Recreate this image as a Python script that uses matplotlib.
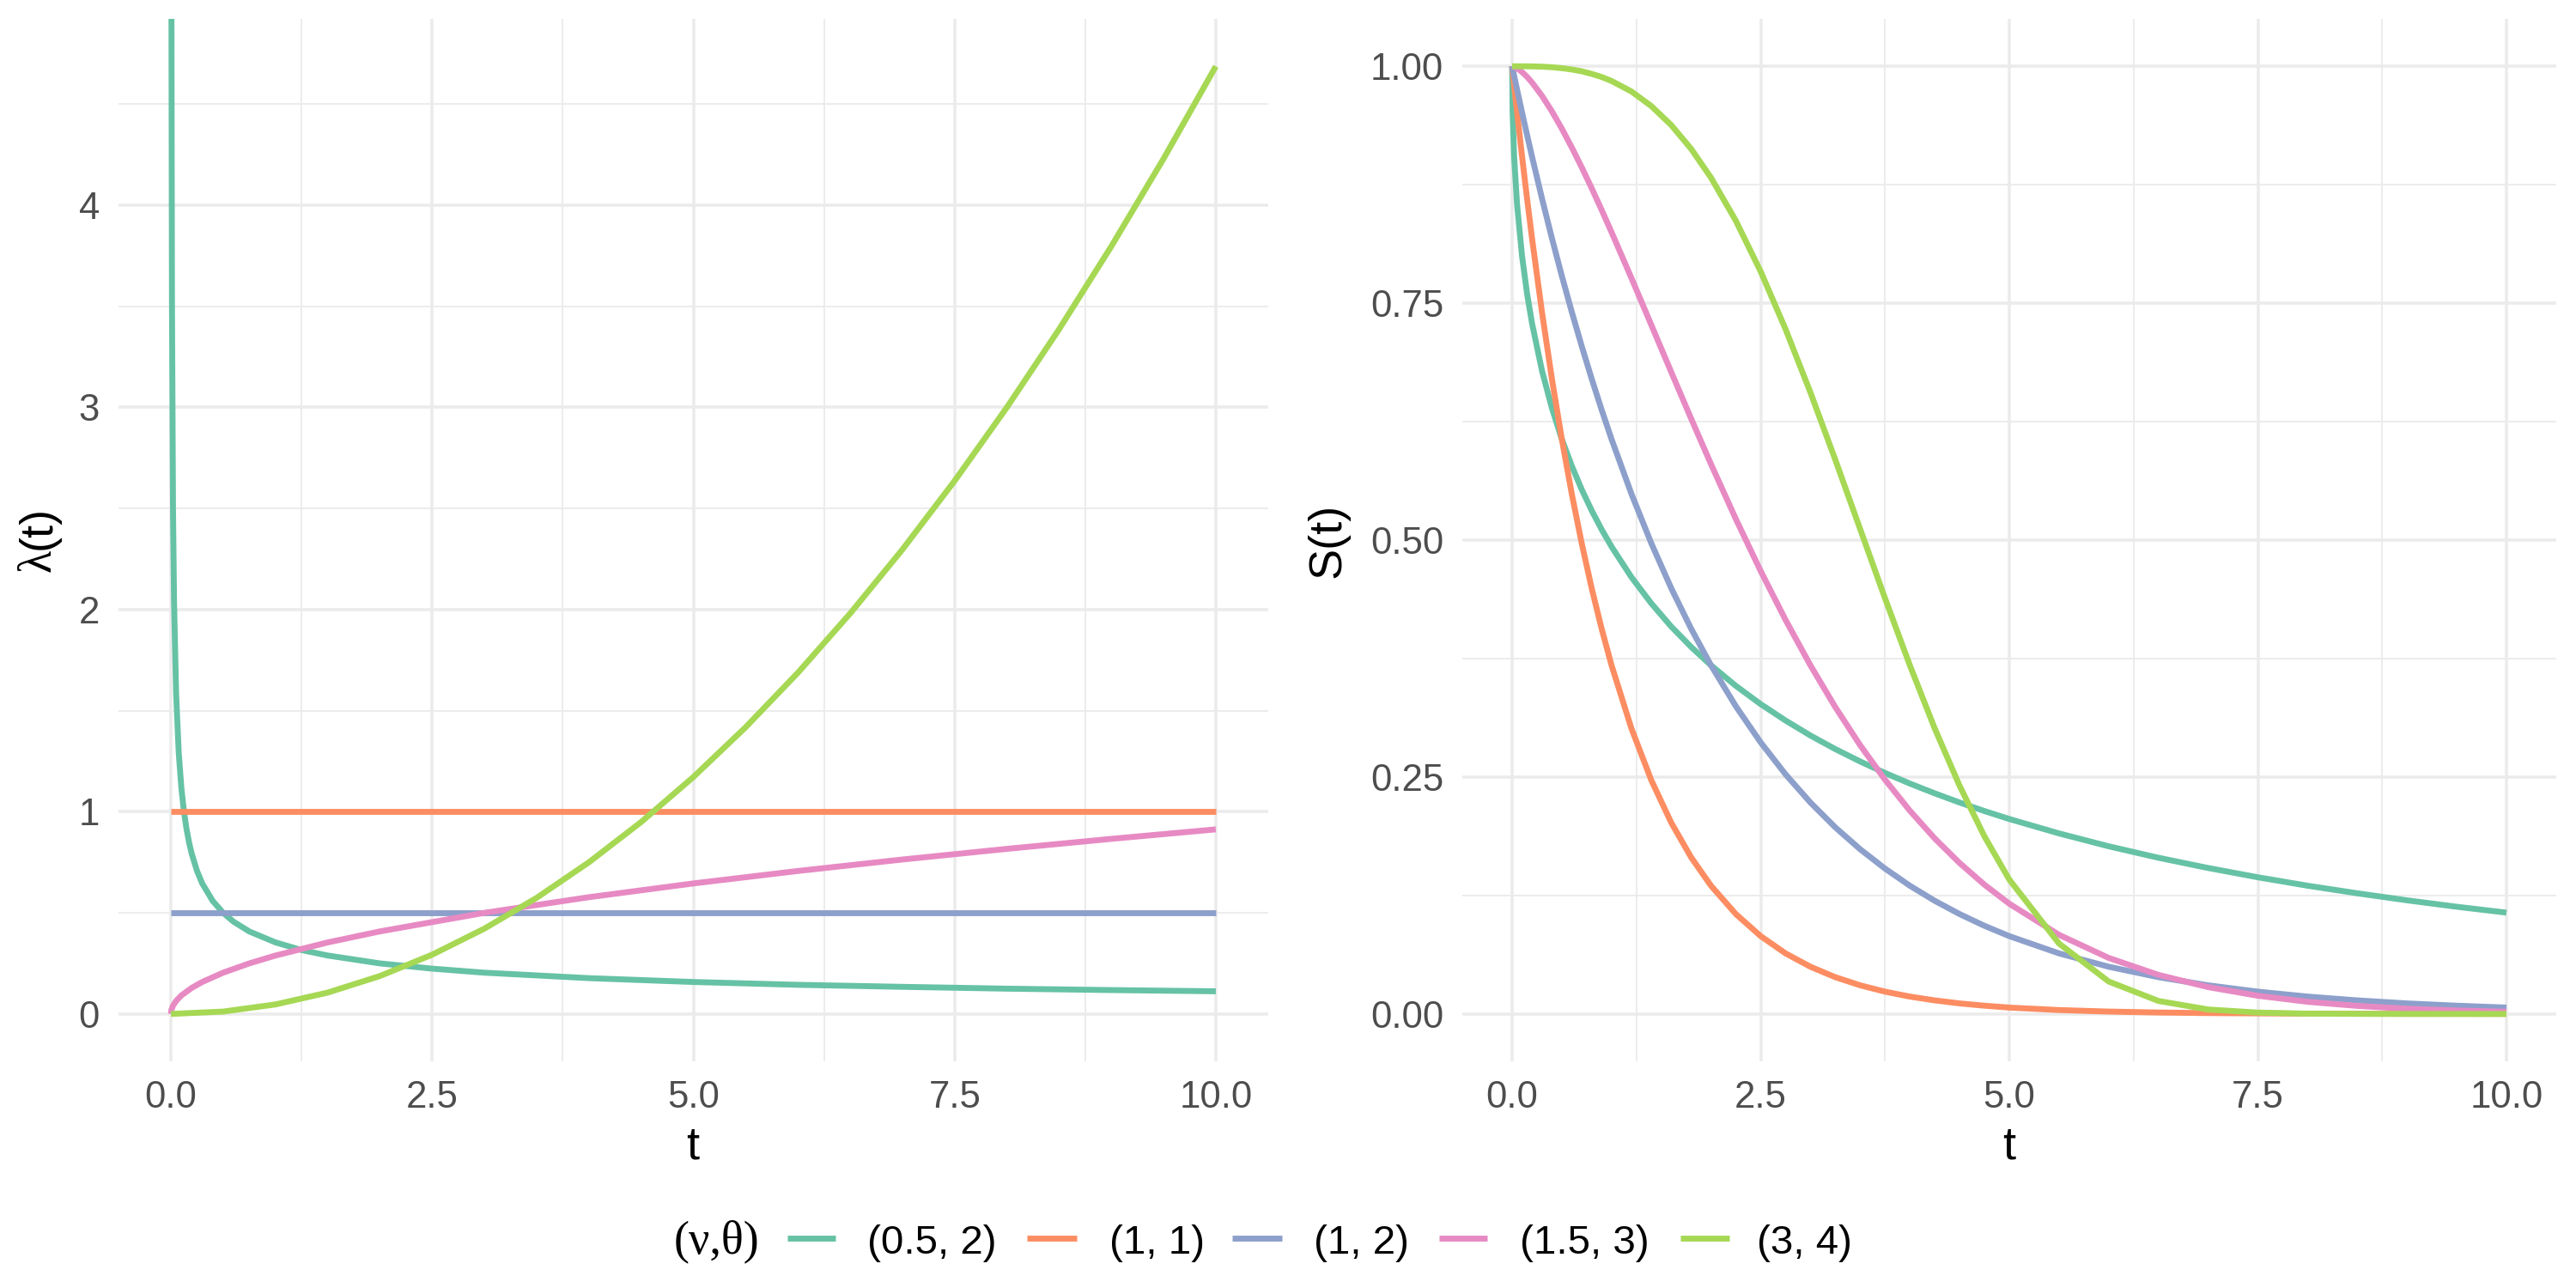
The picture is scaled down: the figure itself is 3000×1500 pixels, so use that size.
import matplotlib
matplotlib.use("Agg")
import matplotlib.pyplot as plt
from matplotlib.lines import Line2D
from matplotlib.ticker import FixedLocator

# ---------------- data ----------------
labels = ["(0.5, 2)", "(1, 1)", "(1, 2)", "(1.5, 3)", "(3, 4)"]
colors = ["#66C2A5", "#FC8D62", "#8DA0CB", "#E78AC3", "#A6D854"]

# hazard lambda(t)
haz_t_a = [0.005, 0.01, 0.02, 0.03, 0.05, 0.075, 0.1, 0.125, 0.15, 0.175, 0.2, 0.25,
           0.3, 0.4, 0.5, 0.6, 0.75, 1.0, 1.25, 1.5, 2.0, 2.5, 3, 4, 5, 6, 7, 8, 9, 10]
haz_a = [5.000, 3.536, 2.500, 2.041, 1.581, 1.291, 1.118, 1.000, 0.913, 0.845, 0.791, 0.707,
         0.645, 0.559, 0.500, 0.456, 0.408, 0.354, 0.316, 0.289, 0.250, 0.224, 0.204, 0.177,
         0.158, 0.144, 0.134, 0.125, 0.118, 0.112]
haz_t_b = [0, 10]
haz_b = [1.0, 1.0]
haz_t_c = [0, 10]
haz_c = [0.5, 0.5]
haz_t_d = [0, 0.005, 0.02, 0.05, 0.1, 0.2, 0.3, 0.5, 0.75, 1, 1.5, 2, 3, 4, 5, 6, 7, 8, 9, 10]
haz_d = [0.0, 0.0204, 0.0408, 0.0645, 0.0913, 0.1291, 0.1581, 0.2041, 0.2500, 0.2887,
         0.3536, 0.4082, 0.5000, 0.5774, 0.6455, 0.7071, 0.7638, 0.8165, 0.8660, 0.9129]
haz_t_e = [0, 0.5, 1, 1.5, 2, 2.5, 3, 3.5, 4, 4.5, 5, 5.5, 6, 6.5, 7, 7.5, 8, 8.5, 9, 9.5, 10]
haz_e = [0.0, 0.0117, 0.0469, 0.1055, 0.1875, 0.2930, 0.4219, 0.5742, 0.7500, 0.9492,
         1.1719, 1.4180, 1.6875, 1.9805, 2.2969, 2.6367, 3.0000, 3.3867, 3.7969, 4.2305, 4.6875]

# survival S(t)
surv_t = [0, 0.005, 0.02, 0.05, 0.1, 0.15, 0.2, 0.3, 0.4, 0.5, 0.6, 0.7, 0.8, 0.9, 1.0,
          1.2, 1.4, 1.6, 1.8, 2.0, 2.25, 2.5, 2.75, 3, 3.25, 3.5, 3.75, 4, 4.25, 4.5, 4.75,
          5, 5.5, 6, 6.5, 7, 7.5, 8, 8.5, 9, 9.5, 10]
surv_a = [1.0, 0.9512, 0.9048, 0.8538, 0.7996, 0.7604, 0.7289, 0.6789, 0.6394, 0.6065,
          0.5783, 0.5534, 0.5313, 0.5113, 0.4931, 0.4609, 0.4332, 0.4088, 0.3873, 0.3679,
          0.3462, 0.3269, 0.3096, 0.2938, 0.2795, 0.2664, 0.2543, 0.2431, 0.2328, 0.2231,
          0.2141, 0.2057, 0.1905, 0.1769, 0.1648, 0.1540, 0.1442, 0.1353, 0.1273, 0.1199,
          0.1131, 0.1069]
surv_b = [1.0, 0.9950, 0.9802, 0.9512, 0.9048, 0.8607, 0.8187, 0.7408, 0.6703, 0.6065,
          0.5488, 0.4966, 0.4493, 0.4066, 0.3679, 0.3012, 0.2466, 0.2019, 0.1653, 0.1353,
          0.1054, 0.0821, 0.0639, 0.0498, 0.0388, 0.0302, 0.0235, 0.0183, 0.0143, 0.0111,
          0.0087, 0.0067, 0.0041, 0.0025, 0.0015, 0.0009, 0.0006, 0.0003, 0.0002, 0.0001,
          0.0001, 0.0000]
surv_c = [1.0, 0.9975, 0.9900, 0.9753, 0.9512, 0.9277, 0.9048, 0.8607, 0.8187, 0.7788,
          0.7408, 0.7047, 0.6703, 0.6376, 0.6065, 0.5488, 0.4966, 0.4493, 0.4066, 0.3679,
          0.3247, 0.2865, 0.2528, 0.2231, 0.1969, 0.1738, 0.1534, 0.1353, 0.1194, 0.1054,
          0.0930, 0.0821, 0.0639, 0.0498, 0.0388, 0.0302, 0.0235, 0.0183, 0.0143, 0.0111,
          0.0087, 0.0067]
surv_d = [1.0, 0.9999, 0.9995, 0.9979, 0.9939, 0.9889, 0.9829, 0.9689, 0.9525, 0.9342,
          0.9144, 0.8934, 0.8714, 0.8485, 0.8249, 0.7765, 0.7270, 0.6774, 0.6283, 0.5802,
          0.5223, 0.4673, 0.4158, 0.3679, 0.3238, 0.2836, 0.2472, 0.2145, 0.1852, 0.1593,
          0.1364, 0.1163, 0.0835, 0.0591, 0.0412, 0.0283, 0.0192, 0.0128, 0.0085, 0.0055,
          0.0036, 0.0023]
surv_e = [1.0, 1.0, 1.0, 1.0, 1.0, 0.99995, 0.99988, 0.99958, 0.9990, 0.9980,
          0.9966, 0.9947, 0.9920, 0.9887, 0.9845, 0.9734, 0.9580, 0.9380, 0.9129, 0.8825,
          0.8370, 0.7834, 0.7226, 0.6558, 0.5849, 0.5117, 0.4387, 0.3679, 0.3013, 0.2408,
          0.1874, 0.1418, 0.0743, 0.0342, 0.0137, 0.0047, 0.0014, 0.0003, 0.0001, 0.0,
          0.0, 0.0]

x_ticks = [0, 2.5, 5, 7.5, 10]
x_ticklabels = ["0.0", "2.5", "5.0", "7.5", "10.0"]
x_minor = [1.25, 3.75, 6.25, 8.75]
haz_yticks = [0, 1, 2, 3, 4]
haz_yticklabels = ["0", "1", "2", "3", "4"]
haz_yminor = [0.5, 1.5, 2.5, 3.5, 4.5]
surv_yticks = [0, 0.25, 0.5, 0.75, 1.0]
surv_yticklabels = ["0.00", "0.25", "0.50", "0.75", "1.00"]
surv_yminor = [0.125, 0.375, 0.625, 0.875]

# ---------------- figure ----------------
W, H = 3000, 1500
fig = plt.figure(figsize=(10, 5), dpi=300)
SANS = ["Liberation Sans", "DejaVu Sans"]
SERIF = ["Liberation Serif", "DejaVu Serif"]
plt.rcParams["font.family"] = SANS

def fx(px):
    return px / W

def fy(py):
    return (H - py) / H

ax1 = fig.add_axes([fx(138.2), fy(1236), fx(1476.8 - 138.2), (1236 - 22) / H])
ax2 = fig.add_axes([fx(1703.1), fy(1236), fx(2976.9 - 1703.1), (1236 - 22) / H])

GRID = "#EBEBEB"
LW = 1.65

def style(ax, yt, ytl, ymin):
    for s in ax.spines.values():
        s.set_visible(False)
    ax.set_xticks(x_ticks)
    ax.set_xticklabels(x_ticklabels)
    ax.set_yticks(yt)
    ax.set_yticklabels(ytl)
    ax.xaxis.set_minor_locator(FixedLocator(x_minor))
    ax.yaxis.set_minor_locator(FixedLocator(ymin))
    ax.tick_params(which="both", length=0)
    ax.tick_params(which="major", labelsize=10.5, labelcolor="#4D4D4D", pad=5.3)
    ax.grid(which="major", color=GRID, linewidth=0.85)
    ax.grid(which="minor", color=GRID, linewidth=0.45)
    ax.set_axisbelow(True)
    ax.set_xlim(-0.5, 10.5)

haz_t = [haz_t_a, haz_t_b, haz_t_c, haz_t_d, haz_t_e]
haz_v = [haz_a, haz_b, haz_c, haz_d, haz_e]
for t, v, c in zip(haz_t, haz_v, colors):
    ax1.plot(t, v, color=c, linewidth=LW, solid_capstyle="butt", solid_joinstyle="round")
style(ax1, haz_yticks, haz_yticklabels, haz_yminor)
ax1.set_ylim(-0.234375, 4.921875)

surv_v = [surv_a, surv_b, surv_c, surv_d, surv_e]
for v, c in zip(surv_v, colors):
    ax2.plot(surv_t, v, color=c, linewidth=LW, solid_capstyle="butt", solid_joinstyle="round")
style(ax2, surv_yticks, surv_yticklabels, surv_yminor)
ax2.set_ylim(-0.05, 1.05)

# axis titles
fig.text(fx(807), fy(1349), "t", fontsize=13, ha="center", va="baseline", family=SANS)
fig.text(fx(2340), fy(1349), "t", fontsize=13, ha="center", va="baseline", family=SANS)
fig.text(fx(1561), fy(629), "S(t)", fontsize=13, rotation=90, rotation_mode="anchor",
         ha="center", va="baseline", family=SANS)
lam = fig.text(fx(59), fy(666), "\u03bb", fontsize=13, rotation=90, rotation_mode="anchor",
               ha="left", va="baseline", family=SERIF)
fig.canvas.draw()
bb = lam.get_window_extent()
fig.text(fx(59), bb.y1 / H, "(t)", fontsize=13, rotation=90, rotation_mode="anchor",
         ha="left", va="baseline", family=SANS)

# legend (bottom, horizontal)
leg_base = 1460
fig.text(fx(785), fy(1459), "(\u03bd,\u03b8)", fontsize=13, ha="left", va="baseline", family=SERIF)
key_x = [(917, 973), (1196, 1254), (1435, 1493), (1676, 1732), (1957, 2014)]
lab_x = [1010, 1292, 1530, 1770, 2046]
for (k0, k1), lx, lab, c in zip(key_x, lab_x, labels, colors):
    fig.add_artist(Line2D([fx(k0), fx(k1)], [fy(1442), fy(1442)], transform=fig.transFigure,
                          color=c, linewidth=LW, solid_capstyle="butt"))
    fig.text(fx(lx), fy(leg_base), lab, fontsize=11.4, ha="left", va="baseline",
             color="black", family=SANS)

fig.savefig("out.png", dpi=300, facecolor="white")
